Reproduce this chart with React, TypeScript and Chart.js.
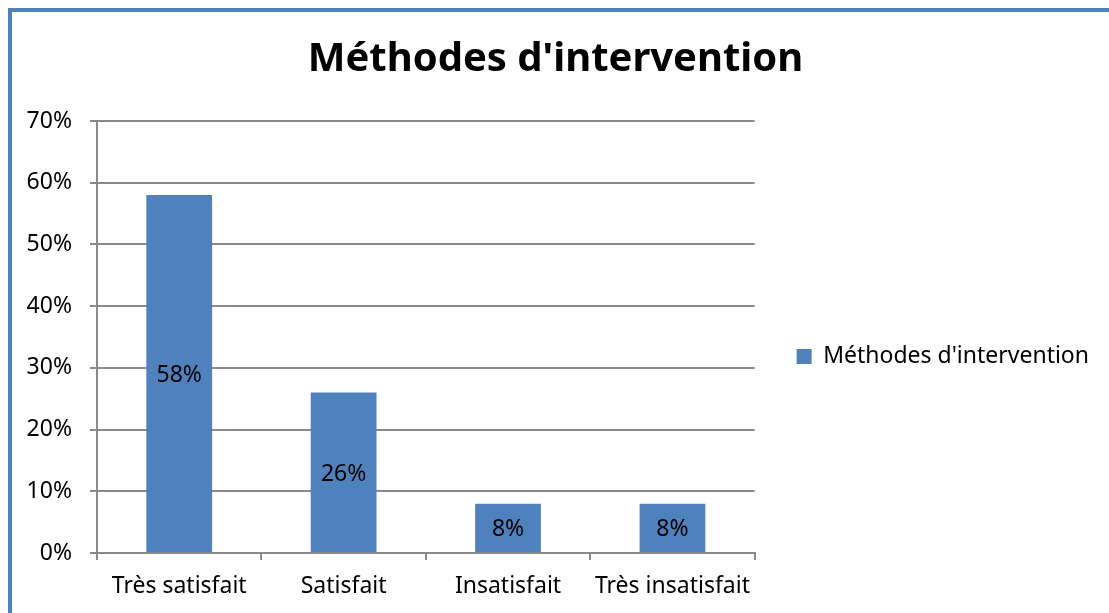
import React, { useEffect, useRef } from "react";
import { Chart, registerables } from "chart.js";

Chart.register(...registerables);

const chartTitle = "Méthodes d'intervention";
const seriesName = "Méthodes d'intervention";
const categories = ["Très satisfait", "Satisfait", "Insatisfait", "Très insatisfait"];
const values = [0.58, 0.26, 0.08, 0.08];
const yMin = 0;
const yMax = 0.7;
const yStep = 0.1;

const BAR_COLOR = "#4F81BD";
const GRID_COLOR = "#8a8a8a";
const FONT = "'Noto Sans', 'DejaVu Sans', sans-serif";

const pct = (v: number) => `${Math.round(v * 100)}%`;

const barLabelPlugin = {
  id: "barLabels",
  afterDatasetsDraw(chart: any) {
    const ctx = chart.ctx;
    ctx.save();
    ctx.font = `23px ${FONT}`;
    ctx.fillStyle = "#000";
    ctx.textAlign = "center";
    ctx.textBaseline = "middle";
    chart.data.datasets.forEach((ds: any, di: number) => {
      const meta = chart.getDatasetMeta(di);
      meta.data.forEach((bar: any, i: number) => {
        const { x, y, base } = bar.getProps(["x", "y", "base"], true);
        ctx.fillText(pct(ds.data[i]), x, (y + base) / 2 + 2);
      });
    });
    ctx.restore();
  },
};

export default function App() {
  const ref = useRef<HTMLCanvasElement>(null);

  useEffect(() => {
    if (!ref.current) return;
    const chart = new Chart(ref.current, {
      type: "bar",
      data: {
        labels: categories,
        datasets: [
          {
            label: seriesName,
            data: values,
            backgroundColor: BAR_COLOR,
            borderWidth: 0,
            barPercentage: 0.4,
            categoryPercentage: 1,
          },
        ],
      },
      options: {
        animation: false,
        responsive: false,
        devicePixelRatio: 1,
        layout: { padding: { left: 0, right: 10, top: 0, bottom: 0 } },
        font: { family: FONT },
        plugins: {
          title: {
            display: true,
            text: chartTitle,
            color: "#000",
            font: { family: FONT, size: 40, weight: "bold" },
            padding: { top: 24, bottom: 37 },
          },
          legend: {
            display: true,
            position: "right",
            maxWidth: 500,
            title: { display: true, text: "", font: { size: 20 }, padding: { top: 32, bottom: 32 } },
            labels: {
              boxWidth: 15,
              boxHeight: 15,
              color: "#000",
              font: { family: FONT, size: 23 },
              padding: 42,
            },
          },
          tooltip: { enabled: false },
        },
        scales: {
          x: {
            offset: true,
            grid: {
              display: true,
              drawOnChartArea: false,
              drawTicks: true,
              tickLength: 7,
              color: GRID_COLOR,
              lineWidth: 2,
              offset: true,
            },
            border: { display: true, color: GRID_COLOR, width: 2 },
            ticks: {
              color: "#000",
              font: { family: FONT, size: 23 },
              padding: 13,
              maxRotation: 0,
              autoSkip: false,
            },
            afterFit: (scale: any) => {
              scale.height = 60;
            },
          },
          y: {
            min: yMin,
            max: yMax,
            grid: {
              display: true,
              drawOnChartArea: true,
              drawTicks: true,
              tickLength: 7,
              color: GRID_COLOR,
              lineWidth: 2,
            },
            border: { display: true, color: GRID_COLOR, width: 2 },
            ticks: {
              stepSize: yStep,
              color: "#000",
              font: { family: FONT, size: 23 },
              padding: 18,
              callback: (v: any) => pct(Number(v)),
            },
            afterFit: (scale: any) => {
              scale.width = 85;
            },
          },
        },
      },
      plugins: [barLabelPlugin],
    });
    return () => chart.destroy();
  }, []);

  return (
    <div
      style={{
        position: "absolute",
        left: 8,
        top: 8,
        width: 1097,
        height: 601,
        borderLeft: `4px solid ${BAR_COLOR}`,
        borderTop: `4px solid ${BAR_COLOR}`,
        background: "#fff",
      }}
    >
      <canvas ref={ref} width={1097} height={601} style={{ display: "block" }} />
    </div>
  );
}
